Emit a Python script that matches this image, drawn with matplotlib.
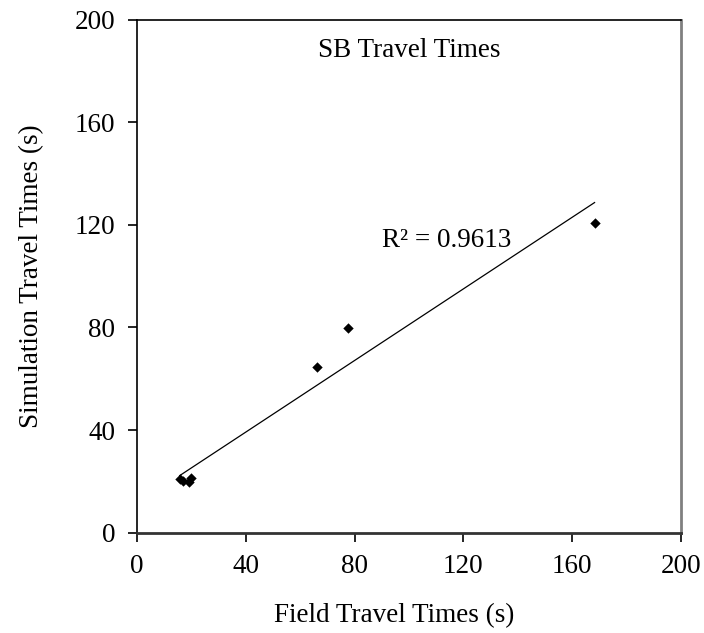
import numpy as np
import matplotlib
matplotlib.use("Agg")
import matplotlib.pyplot as plt

field_times = [15.7, 17.0, 19.0, 20.0, 66.3, 77.6, 168.3]
sim_times = [20.9, 20.0, 19.6, 21.2, 64.7, 79.7, 120.8]
ticks = [0, 40, 80, 120, 160, 200]
title_text = "SB Travel Times"
r2_text = "R\u00b2 = 0.9613"

plt.rcParams['font.family'] = ['Liberation Serif', 'DejaVu Serif']

fig = plt.figure(figsize=(7.04, 6.33), dpi=100)
ax = fig.add_axes([0.1946, 0.1585, 0.967 - 0.1946, 0.9689 - 0.1585])

x = np.array(field_times)
y = np.array(sim_times)
ax.scatter(x, y, marker='D', s=28, color='black', zorder=3, linewidths=0)

m, b = np.polyfit(x, y, 1)
xl = np.array([x.min(), x.max()])
ax.plot(xl, m * xl + b, color='black', lw=0.9)

ax.set_xlim(0, 200)
ax.set_ylim(0, 200)
ax.set_xticks(ticks)
ax.set_yticks(ticks)
ax.tick_params(direction='out', length=6.5, width=1.2, labelsize=19.5, pad=9)

for s in ['left', 'top']:
    ax.spines[s].set_color('black')
    ax.spines[s].set_linewidth(1.2)
ax.spines['bottom'].set_color('#333333')
ax.spines['bottom'].set_linewidth(2)
ax.spines['right'].set_color('#808080')
ax.spines['right'].set_linewidth(2)

ax.set_xlabel("Field Travel Times (s)", fontsize=19.5, labelpad=17)
ax.set_ylabel("Simulation Travel Times (s)", fontsize=19.5, labelpad=22)
fig.canvas.draw()
ax.xaxis.label.set_x(0.4725)

ax.text(0.5, 0.94, title_text, transform=ax.transAxes, ha='center', va='center', fontsize=19.5)
ax.text(90, 114, r2_text, ha='left', va='center', fontsize=19.5)

fig.savefig("out.png", dpi=100)
